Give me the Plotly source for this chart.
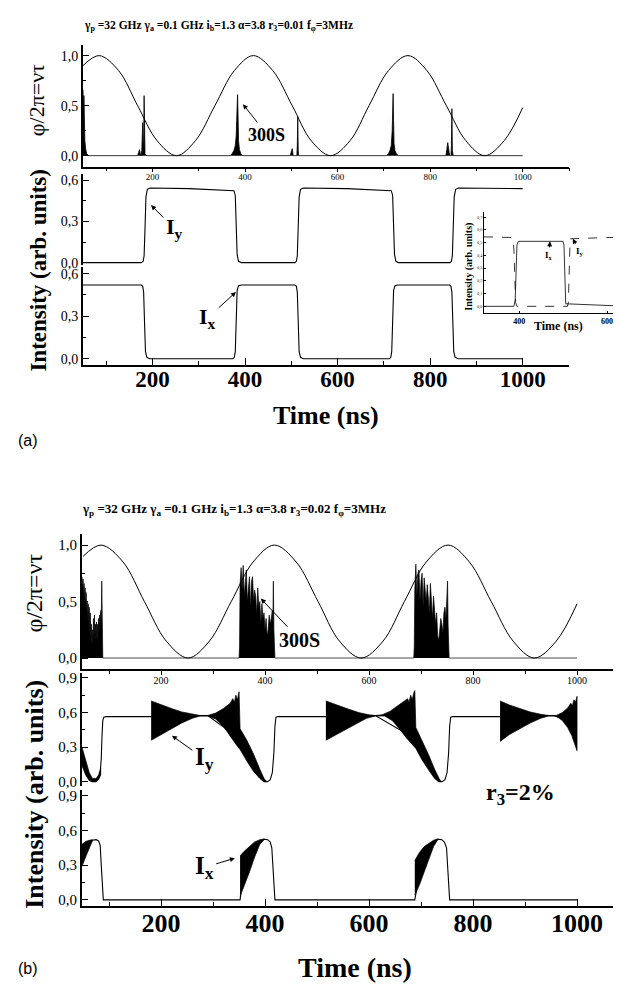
import plotly.graph_objects as go

W, H = 621, 984
SERIF = "Liberation Serif"
SANS = "Liberation Sans"

# ---------------- DATA ----------------
# phase phi/2pi (both panels)
phase_t = [50, 85, 127, 168, 210, 252, 293, 335, 377, 418, 460, 502, 543, 585,
           627, 668, 710, 752, 793, 835, 877, 918, 960, 1000]
phase_v = [0.90, 1.00, 0.85, 0.50, 0.15, 0.00, 0.15, 0.50, 0.85, 1.00, 0.85, 0.50,
           0.15, 0.00, 0.15, 0.50, 0.85, 1.00, 0.85, 0.50, 0.15, 0.00, 0.15, 0.48]

# panel (a): 300S pulses
spike_a_t = [50, 51, 52, 53, 54, 56, 58, 62, 168, 170, 172, 174, 176, 177, 178, 179, 180,
             181, 182, 183, 184, 186, 368, 372, 376, 379, 381, 382, 383, 384, 385, 386,
             388, 391, 395, 498, 500, 502, 503, 504, 506, 512, 513, 514, 515, 516, 706,
             710, 713, 716, 718, 719, 720, 721, 722, 724, 727, 731, 834, 836, 838, 839,
             840, 842, 845, 846, 847, 848, 850, 1000]
spike_a_v = [0.66, 0.45, 0.60, 0.30, 0.15, 0.06, 0.02, 0.0, 0.0, 0.03, 0.06, 0.02, 0.0,
             0.05, 0.25, 0.33, 0.15, 0.05, 0.60, 0.10, 0.02, 0.0, 0.0, 0.02, 0.05, 0.10,
             0.20, 0.35, 0.50, 0.61, 0.40, 0.15, 0.06, 0.02, 0.0, 0.0, 0.04, 0.07, 0.04,
             0.0, 0.0, 0.0, 0.10, 0.39, 0.05, 0.0, 0.0, 0.02, 0.05, 0.10, 0.25, 0.45,
             0.62, 0.35, 0.12, 0.05, 0.02, 0.0, 0.0, 0.06, 0.13, 0.10, 0.03, 0.0, 0.0,
             0.10, 0.47, 0.05, 0.0, 0.0]

# panel (a): Iy and Ix
iy_a_t = [50, 176, 180, 182, 184, 186, 189, 195, 280, 370, 376, 379, 381, 383, 386, 392,
          508, 511, 513, 515, 517, 520, 526, 620, 712, 716, 719, 721, 723, 726, 732,
          843, 846, 848, 850, 852, 855, 861, 1000]
iy_a_v = [0.0, 0.0, 0.01, 0.05, 0.25, 0.48, 0.535, 0.545, 0.54, 0.53, 0.525, 0.49, 0.25,
          0.06, 0.01, 0.0, 0.0, 0.01, 0.05, 0.25, 0.48, 0.535, 0.545, 0.54, 0.53, 0.525,
          0.49, 0.25, 0.06, 0.01, 0.0, 0.0, 0.01, 0.05, 0.25, 0.48, 0.535, 0.545, 0.54]
ix_a_t = [50, 176, 179, 181, 183, 185, 188, 194, 374, 377, 379, 381, 383, 386, 392, 508,
          511, 513, 515, 517, 520, 526, 712, 715, 717, 719, 721, 724, 730, 842, 845, 847,
          849, 851, 854, 860, 1000]
ix_a_v = [0.52, 0.52, 0.51, 0.47, 0.25, 0.05, 0.01, 0.0, 0.0, 0.01, 0.05, 0.27, 0.48,
          0.515, 0.52, 0.52, 0.51, 0.47, 0.25, 0.05, 0.01, 0.0, 0.0, 0.01, 0.05, 0.27,
          0.48, 0.515, 0.52, 0.52, 0.51, 0.47, 0.25, 0.05, 0.01, 0.0, 0.0]

# panel (a) inset
inset_ix_t = [320, 388, 391, 393, 395, 398, 500, 502, 504, 506, 650]
inset_ix_v = [0.0, 0.0, 0.05, 0.30, 0.48, 0.51, 0.51, 0.48, 0.25, 0.02, 0.0]
inset_iy_t = [320, 370, 385, 388, 390, 392, 395, 510, 512, 514, 516, 650]
inset_iy_v = [0.545, 0.545, 0.54, 0.45, 0.20, 0.03, 0.0, 0.0, 0.03, 0.30, 0.53, 0.545]

# panel (b): chaotic bursts of the phase panel
burst_b_t = [48, 49, 50, 51, 52, 53, 54, 55, 56, 57, 58, 59, 60, 61, 62, 63, 64, 65, 66,
             67, 68, 69, 70, 71, 72, 73, 74, 75, 76, 77, 78, 79, 80, 81, 82, 83, 84, 85,
             86, 87, 88,
             350, 351, 352, 354, 356, 358, 360, 362, 364, 366, 368, 370, 372, 374, 376,
             378, 380, 382, 384, 386, 388, 390, 392, 394, 396, 398, 400, 402, 404, 406,
             408, 410, 412, 414, 415, 416, 417, 418, 419,
             686, 687, 688, 690, 692, 694, 696, 698, 700, 702, 704, 706, 708, 710, 712,
             714, 716, 718, 720, 722, 724, 726, 728, 730, 732, 734, 736, 738, 740, 742,
             744, 746, 748, 750, 751, 752, 753, 754, 1000]
burst_b_v = [0.72, 0.60, 0.70, 0.55, 0.66, 0.50, 0.62, 0.45, 0.58, 0.40, 0.50, 0.35, 0.48,
             0.30, 0.45, 0.22, 0.40, 0.18, 0.30, 0.12, 0.25, 0.10, 0.35, 0.18, 0.38, 0.15,
             0.30, 0.20, 0.32, 0.14, 0.30, 0.22, 0.35, 0.25, 0.38, 0.28, 0.42, 0.30, 0.68,
             0.25, 0.0,
             0.0, 0.10, 0.65, 0.80, 0.60, 0.82, 0.55, 0.70, 0.78, 0.50, 0.62, 0.72, 0.45,
             0.68, 0.72, 0.50, 0.60, 0.55, 0.38, 0.62, 0.45, 0.50, 0.30, 0.48, 0.35, 0.40,
             0.25, 0.35, 0.20, 0.25, 0.38, 0.30, 0.35, 0.42, 0.30, 0.68, 0.25, 0.05, 0.0,
             0.0, 0.10, 0.60, 0.83, 0.55, 0.75, 0.78, 0.50, 0.68, 0.75, 0.45, 0.71, 0.60,
             0.50, 0.65, 0.55, 0.40, 0.66, 0.50, 0.35, 0.55, 0.45, 0.30, 0.40, 0.20, 0.15,
             0.25, 0.35, 0.30, 0.22, 0.40, 0.45, 0.35, 0.50, 0.68, 0.30, 0.05, 0.0, 0.0]

# panel (b): Iy thin line and oscillation envelopes
iy_b_t = [48, 62, 70, 78, 83, 85, 86.5, 88, 90, 95, 181, 290, 352, 380, 398, 404, 410,
          414, 417, 419, 421, 425, 517, 612, 690, 720, 734, 740, 746, 750, 753, 755, 757,
          761, 852, 955, 1000]
iy_b_v = [0.22, 0.04, 0.01, 0.02, 0.08, 0.20, 0.40, 0.53, 0.56, 0.565, 0.565, 0.575, 0.37,
          0.15, 0.02, 0.0, 0.02, 0.08, 0.25, 0.48, 0.56, 0.565, 0.565, 0.575, 0.37, 0.15,
          0.02, 0.0, 0.02, 0.08, 0.25, 0.48, 0.56, 0.565, 0.565, 0.575, 0.50]
iy_b_env = [
    # (upper t, upper v, lower t, lower v)
    ([48, 55, 62, 68, 75, 80, 84], [0.30, 0.18, 0.08, 0.03, 0.03, 0.06, 0.12],
     [48, 55, 62, 68, 75, 80, 84], [0.14, 0.06, 0.01, 0.0, 0.0, 0.02, 0.06]),
    ([181, 200, 220, 240, 260, 275, 290, 305, 320, 333, 338, 341, 344, 347, 350, 352, 365,
      378, 390, 398, 403],
     [0.70, 0.665, 0.635, 0.605, 0.585, 0.575, 0.575, 0.595, 0.635, 0.68, 0.72, 0.69,
      0.75, 0.71, 0.78, 0.46, 0.36, 0.24, 0.11, 0.03, 0.0],
     [181, 200, 220, 240, 260, 275, 290, 305, 320, 335, 345, 352, 365, 378, 390, 398, 403],
     [0.36, 0.41, 0.46, 0.51, 0.55, 0.57, 0.57, 0.545, 0.48, 0.38, 0.32, 0.28, 0.18, 0.09,
      0.03, 0.0, 0.0]),
    ([517, 540, 560, 580, 600, 612, 625, 640, 655, 668, 674, 677, 680, 683, 686, 688, 690,
      702, 715, 726, 734, 738],
     [0.70, 0.66, 0.63, 0.60, 0.58, 0.575, 0.58, 0.61, 0.655, 0.70, 0.72, 0.69, 0.75,
      0.71, 0.77, 0.79, 0.47, 0.36, 0.23, 0.11, 0.03, 0.0],
     [517, 535, 555, 575, 595, 612, 630, 645, 660, 672, 684, 690, 702, 715, 726, 734, 738],
     [0.36, 0.40, 0.45, 0.50, 0.55, 0.57, 0.57, 0.53, 0.45, 0.38, 0.32, 0.29, 0.19, 0.10,
      0.03, 0.0, 0.0]),
    ([852, 870, 890, 910, 930, 945, 960, 972, 982, 988, 991, 994, 997, 1000],
     [0.70, 0.665, 0.635, 0.605, 0.585, 0.575, 0.575, 0.60, 0.64, 0.68, 0.66, 0.71, 0.69,
      0.74],
     [852, 870, 890, 910, 930, 945, 960, 972, 982, 990, 996, 1000],
     [0.35, 0.41, 0.46, 0.51, 0.55, 0.57, 0.57, 0.53, 0.47, 0.40, 0.33, 0.27]),
]

# panel (b): Ix thin line and oscillation envelopes
ix_b_t = [48, 55, 62, 68, 75, 80, 83, 85, 87, 89, 352, 360, 380, 398, 405, 410, 413, 415,
          417, 419, 688, 700, 720, 732, 740, 745, 749, 751, 753, 755, 1000]
ix_b_v = [0.38, 0.44, 0.49, 0.515, 0.52, 0.51, 0.47, 0.30, 0.08, 0.0, 0.0, 0.28, 0.44,
          0.525, 0.52, 0.50, 0.45, 0.30, 0.10, 0.0, 0.0, 0.30, 0.45, 0.525, 0.52, 0.50,
          0.45, 0.30, 0.10, 0.0, 0.0]
ix_b_env = [
    ([48, 55, 62, 68], [0.48, 0.505, 0.515, 0.52],
     [48, 55, 62, 68], [0.29, 0.37, 0.45, 0.51]),
    ([352, 360, 370, 380, 390, 398], [0.38, 0.42, 0.46, 0.50, 0.52, 0.525],
     [352, 360, 370, 380, 390, 398], [0.03, 0.12, 0.24, 0.37, 0.48, 0.52]),
    ([688, 697, 706, 715, 724, 732], [0.34, 0.41, 0.46, 0.49, 0.515, 0.525],
     [688, 697, 706, 715, 724, 732], [0.04, 0.13, 0.24, 0.35, 0.46, 0.52]),
]

# tick labels
time_ticks = [200, 400, 600, 800, 1000]
time_labels = ["200", "400", "600", "800", "1000"]
phase_ticks = [0.0, 0.5, 1.0]
phase_labels = ["0,0", "0,5", "1,0"]
int_a_ticks = [0.0, 0.3, 0.6]
int_a_labels = ["0,0", "0,3", "0,6"]
int_b_ticks = [0.0, 0.3, 0.6, 0.9]
int_b_labels = ["0,0", "0,3", "0,6", "0,9"]
inset_y_ticks = [0.0, 0.1, 0.2, 0.3, 0.4, 0.5, 0.6, 0.7]
inset_y_labels = ["0,0", "0,1", "0,2", "0,3", "0,4", "0,5", "0,6", "0,7"]
inset_x_ticks = [400, 600]
inset_x_labels = ["400", "600"]


# ---------------- HELPERS ----------------
def py(p):
    return 1 - p / H


def px(p):
    return p / W


def line(x, y, xa, ya, width=1.0, dash=None, shape="linear", fill=None):
    return go.Scatter(x=x, y=y, xaxis=xa, yaxis=ya, mode="lines",
                      line=dict(color="black", width=width, dash=dash, shape=shape),
                      fill=fill, fillcolor="black" if fill else None,
                      hoverinfo="skip", showlegend=False)


def band(env, xa, ya):
    tu, vu, tl, vl = env
    return go.Scatter(x=list(tu) + list(tl)[::-1], y=list(vu) + list(vl)[::-1],
                      xaxis=xa, yaxis=ya, mode="lines", fill="toself",
                      fillcolor="black", line=dict(color="black", width=0.7),
                      hoverinfo="skip", showlegend=False)


fig = go.Figure()
# panel (a)
fig.add_trace(line(spike_a_t, spike_a_v, "x", "y", width=0.8, fill="tozeroy"))
fig.add_trace(line(phase_t, phase_v, "x", "y", width=1.0, shape="spline"))
fig.add_trace(line(iy_a_t, iy_a_v, "x2", "y2", width=1.1))
fig.add_trace(line(ix_a_t, ix_a_v, "x3", "y3", width=1.1))
fig.add_trace(line(inset_iy_t, inset_iy_v, "x4", "y4", width=0.8, dash="dash"))
fig.add_trace(line(inset_ix_t, inset_ix_v, "x4", "y4", width=0.8))
# panel (b)
fig.add_trace(line(burst_b_t, burst_b_v, "x5", "y5", width=0.7, fill="tozeroy"))
fig.add_trace(line(phase_t, phase_v, "x5", "y5", width=1.0, shape="spline"))
for e in iy_b_env:
    fig.add_trace(band(e, "x6", "y6"))
fig.add_trace(line(iy_b_t, iy_b_v, "x6", "y6", width=1.1))
for e in ix_b_env:
    fig.add_trace(band(e, "x7", "y7"))
fig.add_trace(line(ix_b_t, ix_b_v, "x7", "y7", width=1.1))


def axis(**kw):
    d = dict(showline=True, linecolor="black", linewidth=1.8, showgrid=False,
             zeroline=False, ticks="inside", tickcolor="black", tickwidth=1.2,
             ticklen=6, fixedrange=True, tickmode="array")
    d.update(kw)
    return d


xa_dom = [px(75), px(561)]
xb_dom = [px(74), px(620)]
xa_rng = [50, 1100]
xb_rng = [48, 1098]

layout = dict(
    width=W, height=H, margin=dict(l=0, r=0, t=0, b=0, pad=0),
    paper_bgcolor="white", plot_bgcolor="rgba(0,0,0,0)", showlegend=False,
    # ---- (a) phase
    xaxis=axis(domain=xa_dom, range=xa_rng, anchor="y", ticks="outside", ticklen=4,
               tickvals=time_ticks, ticktext=time_labels, ticklabelstandoff=-3,
               tickfont=dict(family=SERIF, size=9, color="black"),
               minor=dict(ticks="outside", ticklen=3, dtick=100, tick0=0,
                          tickcolor="black")),
    yaxis=axis(domain=[py(157), py(34)], range=[-0.109, 1.109], anchor="x",
               tickvals=phase_ticks, ticktext=phase_labels,
               tickfont=dict(family=SERIF, size=14, color="black"),
               minor=dict(ticks="inside", ticklen=3, dtick=0.25, tick0=0,
                          tickcolor="black")),
    # ---- (a) Iy
    xaxis2=dict(domain=xa_dom, range=xa_rng, anchor="y2", visible=False, fixedrange=True),
    yaxis2=axis(domain=[py(256), py(165)], range=[-0.0145, 0.643], anchor="x2",
                tickvals=int_a_ticks, ticktext=int_a_labels,
                tickfont=dict(family=SERIF, size=14, color="black"),
                minor=dict(ticks="inside", ticklen=3, dtick=0.15, tick0=0,
                           tickcolor="black")),
    # ---- (a) Ix
    xaxis3=axis(domain=xa_dom, range=xa_rng, anchor="y3", ticklen=7,
                tickvals=time_ticks, ticktext=time_labels, ticklabelstandoff=-7,
                tickfont=dict(family=SERIF, size=23, color="black", weight="bold"),
                minor=dict(ticks="inside", ticklen=4, dtick=100, tick0=0,
                           tickcolor="black")),
    yaxis3=axis(domain=[py(357), py(258)], range=[-0.042, 0.649], anchor="x3",
                tickvals=int_a_ticks, ticktext=int_a_labels,
                tickfont=dict(family=SERIF, size=14, color="black"),
                minor=dict(ticks="inside", ticklen=3, dtick=0.15, tick0=0,
                           tickcolor="black")),
    # ---- (a) inset
    xaxis4=axis(domain=[px(476), 1.0], range=[320, 650], anchor="y4", linewidth=1,
                ticklen=2, tickwidth=0.8, tickvals=inset_x_ticks, ticktext=inset_x_labels,
                tickfont=dict(family=SERIF, size=8, color="black", weight="bold")),
    yaxis4=axis(domain=[py(305), py(203)], range=[-0.054, 0.739], anchor="x4",
                linewidth=1, ticklen=2, tickwidth=0.8,
                tickvals=inset_y_ticks, ticktext=inset_y_labels,
                tickfont=dict(family=SERIF, size=4, color="black")),
    # ---- (b) phase
    xaxis5=axis(domain=xb_dom, range=xb_rng, anchor="y5", ticks="outside", ticklen=4,
                tickvals=time_ticks, ticktext=time_labels, ticklabelstandoff=-3,
                tickfont=dict(family=SERIF, size=10, color="black"),
                minor=dict(ticks="outside", ticklen=3, dtick=100, tick0=0,
                           tickcolor="black")),
    yaxis5=axis(domain=[py(664), py(528)], range=[-0.0965, 1.0965], anchor="x5",
                tickvals=phase_ticks, ticktext=phase_labels,
                tickfont=dict(family=SERIF, size=15, color="black"),
                minor=dict(ticks="inside", ticklen=3, dtick=0.25, tick0=0,
                           tickcolor="black")),
    # ---- (b) Iy
    xaxis6=dict(domain=xb_dom, range=xb_rng, anchor="y6", visible=False, fixedrange=True),
    yaxis6=axis(domain=[py(782), py(668)], range=[-0.034, 0.943], anchor="x6",
                tickvals=int_b_ticks, ticktext=int_b_labels,
                tickfont=dict(family=SERIF, size=15, color="black"),
                minor=dict(ticks="inside", ticklen=3, dtick=0.15, tick0=0,
                           tickcolor="black")),
    # ---- (b) Ix
    xaxis7=axis(domain=xb_dom, range=xb_rng, anchor="y7", ticklen=7,
                tickvals=time_ticks, ticktext=time_labels, ticklabelstandoff=-7,
                tickfont=dict(family=SERIF, size=26, color="black", weight="bold"),
                minor=dict(ticks="inside", ticklen=4, dtick=100, tick0=0,
                           tickcolor="black")),
    yaxis7=axis(domain=[py(903), py(786)], range=[-0.051, 0.951], anchor="x7",
                tickvals=int_b_ticks, ticktext=int_b_labels,
                tickfont=dict(family=SERIF, size=15, color="black"),
                minor=dict(ticks="inside", ticklen=3, dtick=0.15, tick0=0,
                           tickcolor="black")),
)

ann = []


def text(x, y, s, size, bold=False, family=SERIF, angle=0):
    ann.append(dict(x=x, y=y, xref="paper", yref="paper", text=s, showarrow=False,
                    font=dict(family=family, size=size, color="black",
                              weight="bold" if bold else "normal"),
                    textangle=angle, xanchor="center", yanchor="middle"))


def arrow(xa, ya, tx, ty, lx, ly, s, size):
    ann.append(dict(x=tx, y=ty, xref=xa, yref=ya, ax=lx, ay=ly, axref=xa, ayref=ya,
                    text=s, showarrow=True, arrowhead=2, arrowsize=1, arrowwidth=1,
                    arrowcolor="black", standoff=0, startstandoff=1,
                    font=dict(family=SERIF, size=size, color="black", weight="bold")))


title_a = ("γ<sub>p</sub> =32 GHz γ<sub>a</sub> =0.1 GHz i<sub>b</sub>=1.3 α=3.8 "
           "r<sub>3</sub>=0.01 f<sub>φ</sub>=3MHz")
title_b = ("γ<sub>p</sub> =32 GHz γ<sub>a</sub> =0.1 GHz i<sub>b</sub>=1.3 α=3.8 "
           "r<sub>3</sub>=0.02 f<sub>φ</sub>=3MHz")

text(px(210), py(15), title_a, 11.5, bold=True)
text(px(28), py(90), "φ/2π=ντ", 22, angle=-90)
text(px(31), py(262), "Intensity (arb. units)", 23, bold=True, angle=-90)
text(px(318), py(408), "Time (ns)", 26, bold=True)
text(px(20), py(433), "(a)", 16, family=SANS)
text(px(461), py(258), "Intensity (arb. units)", 10, bold=True, angle=-90)
text(px(550), py(318), "Time (ns)", 12, bold=True)

arrow("x", "y", 395.6, 0.515, 447.5, 0.21, "300S", 18)
arrow("x2", "y2", 197, 0.42, 246.6, 0.25, "I<sub>y</sub>", 22)
arrow("x3", "y3", 380.5, 0.47, 320, 0.29, "I<sub>x</sub>", 22)
arrow("x4", "y4", 470, 0.51, 468, 0.40, "I<sub>x</sub>", 9)
arrow("x4", "y4", 522, 0.53, 538, 0.43, "I<sub>y</sub>", 9)

text(px(226), py(503), title_b, 13, bold=True)
text(px(26), py(588), "φ/2π=ντ", 24, angle=-90)
text(px(27), py(791), "Intensity (arb. units)", 26, bold=True, angle=-90)
text(px(347), py(965), "Time (ns)", 28, bold=True)
text(px(20), py(966), "(b)", 16, family=SANS)
text(px(512), py(790), "r<sub>3</sub>=2%", 24, bold=True)

arrow("x5", "y5", 392, 0.526, 467, 0.16, "300S", 20)
arrow("x6", "y6", 221, 0.40, 283, 0.20, "I<sub>y</sub>", 25)
arrow("x7", "y7", 342, 0.36, 283, 0.28, "I<sub>x</sub>", 25)

layout["annotations"] = ann
fig.update_layout(**layout)
fig.write_html("out.html")
